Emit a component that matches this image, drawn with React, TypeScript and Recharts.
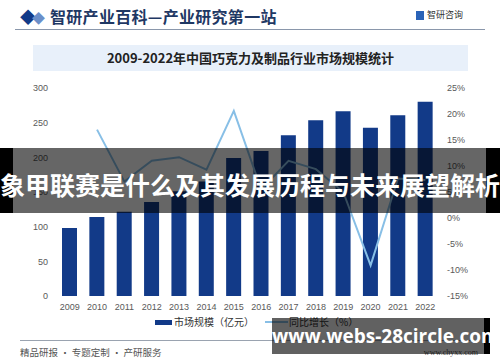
import { ComposedChart, Bar, Line, XAxis, YAxis } from 'recharts'

const years = ['2009','2010','2011','2012','2013','2014','2015','2016','2017','2018','2019','2020','2021','2022']
const marketSize = [98, 114, 121.5, 135.5, 151, 165, 199, 209, 232, 253.6, 266.6, 242.5, 260.8, 280]
const growth: (number | null)[] = [null, 17, 7, 11, 11.7, 9.3, 20.6, 5.5, 11, 9.4, 5, -9.1, 7.6, 7.3]
const leftTicks = [0, 50, 100, 150, 200, 250, 300]
const rightTicks = [-15, -10, -5, 0, 5, 10, 15, 20, 25]

const data = years.map((y, i) => ({ year: y, size: marketSize[i], rate: growth[i] }))

const NAVY = '#123a88'
const LIGHT = '#88bfe6'
const FONT = '"Noto Sans CJK SC", "Noto Sans", sans-serif'

export default function App() {
  const tick = { fill: '#595959', fontSize: 9, fontFamily: 'Liberation Sans, Arial, sans-serif' }
  return (
    <div style={{ position:'absolute', left:0, top:0, width:500, height:362, background:'#fff', overflow:'hidden', fontFamily:FONT }}>
      {/* header */}
      <div style={{ position:'absolute', left:20, top:4, fontSize:16, color:NAVY, lineHeight:'24px' }}>◆</div>
      <div style={{ position:'absolute', left:32, top:6, fontSize:13, color:'#6b8fc9', lineHeight:'24px' }}>◆</div>
      <div style={{ position:'absolute', left:50, top:4, fontSize:16, fontWeight:700, color:'#1f3864', lineHeight:'24px', letterSpacing:0.3 }}>智研产业百科—产业研究第一站</div>
      <div style={{ position:'absolute', left:416, top:11, width:8, height:9, background:'#2a63b8' }} />
      <div style={{ position:'absolute', left:427, top:8, fontSize:9, color:'#333', lineHeight:'14px' }}>智研咨询</div>
      <div style={{ position:'absolute', left:15, top:29, width:470, height:1, background:'#8a97ab' }} />

      {/* title */}
      <div style={{ position:'absolute', left:33, top:45, width:435, height:26, background:'#e8f0fa' }} />
      <div style={{ position:'absolute', left:33, top:45, width:435, height:26, lineHeight:'26px', textAlign:'center', fontSize:13, fontWeight:700, color:'#222' }}>
        2009-2022年中国巧克力及制品行业市场规模统计
      </div>

      <div style={{ position:'absolute', left:0, top:0 }}>
        <ComposedChart width={500} height={362} data={data} margin={{ top:88, right:0, bottom:46, left:0 }} barSize={15}>
          <XAxis dataKey="year" tick={tick} axisLine={false} tickLine={false} height={20} interval={0} />
          <YAxis yAxisId="left" domain={[0, 300]} ticks={leftTicks} tick={tick} axisLine={false} tickLine={false} width={56} />
          <YAxis yAxisId="right" orientation="right" domain={[-15, 25]} ticks={rightTicks} tickFormatter={(v:number)=>`${v}%`} tick={tick} axisLine={false} tickLine={false} width={61} />
          <Bar yAxisId="left" dataKey="size" fill={NAVY} isAnimationActive={false} />
          <Line yAxisId="right" dataKey="rate" type="linear" stroke={LIGHT} strokeWidth={2} dot={false} isAnimationActive={false} />
        </ComposedChart>
      </div>

      {/* legend */}
      <div style={{ position:'absolute', left:155, top:320, width:17, height:5, background:NAVY }} />
      <div style={{ position:'absolute', left:174, top:314, fontSize:10, color:'#333', lineHeight:'16px' }}>市场规模（亿元）</div>
      <div style={{ position:'absolute', left:265, top:321, width:23, height:2, background:LIGHT }} />
      <div style={{ position:'absolute', left:289, top:314, fontSize:10, color:'#333', lineHeight:'16px' }}>同比增长（%）</div>

      {/* footer */}
      <div style={{ position:'absolute', left:20, top:340, width:460, height:1, background:'#9aa3b0' }} />
      <div style={{ position:'absolute', left:20, top:344, fontSize:9.5, color:'#555', lineHeight:'16px' }}>精品研报 · 专题定制 · 产研服务</div>
      <div style={{ position:'absolute', right:22, top:347, fontSize:8, color:'#555', lineHeight:'12px', fontFamily:'serif' }}>www.chyxx.com</div>

      {/* overlay banner */}
      <div style={{ position:'absolute', left:0, top:148, width:13, height:65, background:'#000' }} />
      <div style={{ position:'absolute', left:486, top:148, width:14, height:65, background:'#000' }} />
      <div style={{ position:'absolute', left:13, top:148, width:473, height:65, background:'rgba(0,0,0,0.6)' }} />
      <div style={{ position:'absolute', left:0, top:148, width:500, height:65, lineHeight:'72px', textAlign:'center', fontSize:25, fontWeight:700, color:'#fff', whiteSpace:'nowrap' }}>
        象甲联赛是什么及其发展历程与未来展望解析
      </div>

      {/* bottom watermark */}
      <div style={{ position:'absolute', left:272, top:318, width:212, height:36, background:'rgba(0,0,0,0.62)' }} />
      <div style={{ position:'absolute', left:484, top:318, width:6, height:36, background:'#000' }} />
      <div style={{ position:'absolute', left:272, top:318, width:212, height:36, lineHeight:'36px', textAlign:'center', fontSize:19, fontWeight:700, color:'#fff', fontFamily:'"Open Sans", "Noto Sans", sans-serif', whiteSpace:'nowrap' }}>
        www.webs-28circle.com
      </div>
    </div>
  )
}
